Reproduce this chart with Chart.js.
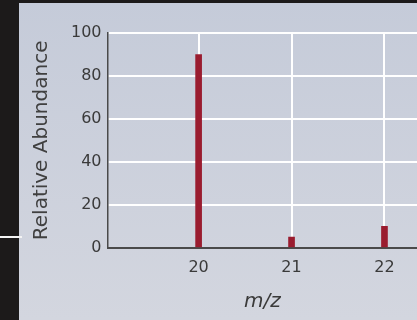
<!DOCTYPE html>
<html>
<head>
<meta charset="utf-8">
<script src="https://cdn.jsdelivr.net/npm/chart.js@4.4.1/dist/chart.umd.min.js"></script>
<style>
  html, body { margin: 0; padding: 0; overflow: hidden; background: #c9cedb; }
  #wrap { position: relative; width: 417px; height: 320px; }
</style>
</head>
<body>
<div id="wrap"><canvas id="myChart" width="417" height="320"></canvas></div>
<script>
// mass spectrum values
const massValues = [20, 21, 22];
const abundance = [90, 5, 10];
const yTicks = [0, 20, 40, 60, 80, 100];

const frame = {
  id: "frame",
  beforeDraw(chart) {
    const ctx = chart.ctx;
    ctx.save();
    const g = ctx.createLinearGradient(0, 0, 0, chart.height);
    g.addColorStop(0, "#c5cbd9");
    g.addColorStop(1, "#d3d6df");
    ctx.fillStyle = g;
    ctx.fillRect(0, 0, chart.width, chart.height);
    ctx.fillStyle = "#1c1a1a";
    ctx.fillRect(0, 0, 19, chart.height);
    ctx.fillRect(0, 0, chart.width, 3);
    ctx.fillStyle = "#f4f4f4";
    ctx.fillRect(0, 236, 22, 2);
    ctx.restore();
  }
};

const fontFam = "'DejaVu Sans', sans-serif";

new Chart(document.getElementById("myChart"), {
  type: "bar",
  data: {
    datasets: [{
      data: massValues.map((m, i) => ({ x: m, y: abundance[i] })),
      backgroundColor: "#9a1c2f",
      barThickness: 6
    }]
  },
  options: {
    responsive: false,
    animation: false,
    layout: { padding: { left: 30, top: 33, right: 0, bottom: 6 } },
    plugins: { legend: { display: false }, tooltip: { enabled: false } },
    scales: {
      x: {
        type: "linear",
        offset: false,
        min: 19.02,
        max: 22.35,
        afterBuildTicks: (scale) => { scale.ticks = massValues.map(v => ({ value: v })); },
        grid: { color: "#ffffff", lineWidth: 2, drawTicks: false, offset: false },
        border: { color: "#4a4a4a", width: 2 },
        ticks: { color: "#3a3a3a", font: { family: fontFam, size: 16 }, padding: 10, maxRotation: 0 },
        title: { display: true, text: "m/z", color: "#3a3a3a", font: { family: fontFam, size: 20, style: "italic" }, padding: { top: 3, bottom: 0 } }
      },
      y: {
        min: 0,
        max: 100,
        afterBuildTicks: (scale) => { scale.ticks = yTicks.map(v => ({ value: v })); },
        grid: { color: "#ffffff", lineWidth: 2, drawTicks: false },
        border: { color: "#4a4a4a", width: 1.5 },
        ticks: { color: "#3a3a3a", font: { family: fontFam, size: 16 }, padding: 6 },
        title: { display: true, text: "Relative Abundance", color: "#404040", font: { family: fontFam, size: 20 }, padding: { top: 0, bottom: 11 } }
      }
    }
  },
  plugins: [frame]
});
</script>
</body>
</html>
